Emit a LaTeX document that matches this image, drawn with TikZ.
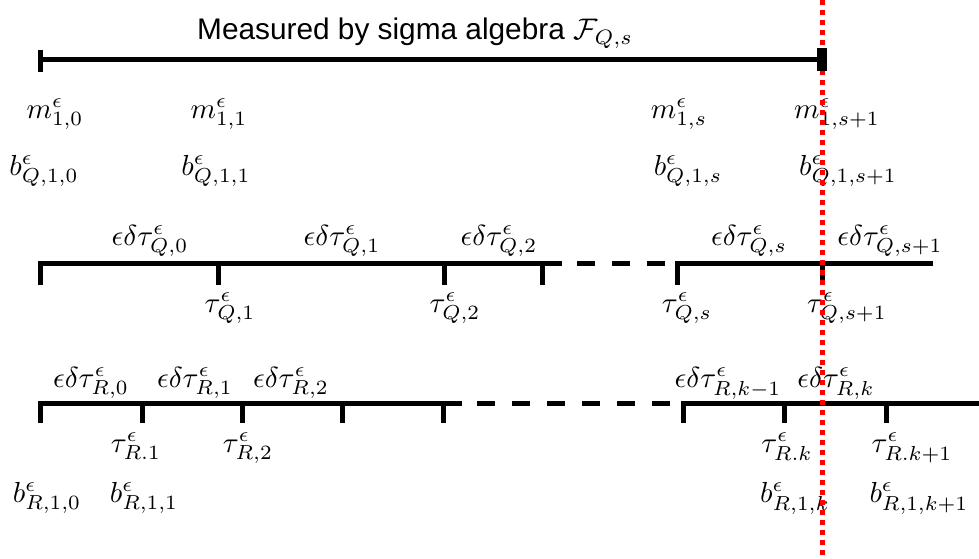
\documentclass[tikz,border=0pt]{standalone}
\usepackage{graphicx}
\usepackage{fontspec}
\newfontfamily\arialf{Liberation Sans}
\newcommand{\lblmath}[1]{\scalebox{2.9}{$#1$}}
\tikzset{
  lbl/.style={anchor=base, inner sep=0pt},
  ttl/.style={anchor=base west, inner sep=0pt},
  bar/.style={line width=5pt, line join=miter, line cap=butt},
  dashbar/.style={line width=5pt, dash pattern=on 18pt off 17pt},
  tickmark/.style={line width=5pt},
  redline/.style={red, line width=5pt, dash pattern=on 5pt off 5pt},
}
\begin{document}
\begin{tikzpicture}[x=1pt,y=-1pt]
\useasboundingbox (0,0) rectangle (979,559);
% top span
\node[ttl] (title) at (197,40) {\scalebox{2.98}{\arialf Measured by sigma algebra $\mathcal{F}_{Q,s}$}};
\coordinate (t0) at (40,60);
\coordinate (t1) at (817,60);
\draw[bar] (t0) -- (t1);
\draw[tickmark] (40,50) -- (40,72);
% m row
\node[lbl] (m0) at (55,118) {\lblmath{m^\epsilon_{1,0}}};
\node[lbl] (m1) at (219,118) {\lblmath{m^\epsilon_{1,1}}};
\node[lbl] (ms) at (679,118) {\lblmath{m^\epsilon_{1,s}}};
\node[lbl] (ms1) at (837,118) {\lblmath{m^\epsilon_{1,s+1}}};
% bQ row
\node[lbl] (bq0) at (44,175) {\lblmath{b^\epsilon_{Q,1,0}}};
\node[lbl] (bq1) at (216,175) {\lblmath{b^\epsilon_{Q,1,1}}};
\node[lbl] (bqs) at (688,175) {\lblmath{b^\epsilon_{Q,1,s}}};
\node[lbl] (bqs1) at (848,175) {\lblmath{b^\epsilon_{Q,1,s+1}}};
% Q line
\draw[bar] (40,285) -- (40,263) -- (562,263);
\draw[dashbar] (577,263) -- (670,263);
\draw[bar] (675,263) -- (933,263);
\foreach \x in {218,444,542,677,822}
  \draw[tickmark] (\x,263) -- (\x,285);
\node[lbl] (dq0) at (150,245) {\lblmath{\epsilon\delta\tau^\epsilon_{Q,0}}};
\node[lbl] (dq1) at (342,245) {\lblmath{\epsilon\delta\tau^\epsilon_{Q,1}}};
\node[lbl] (dq2) at (499,245) {\lblmath{\epsilon\delta\tau^\epsilon_{Q,2}}};
\node[lbl] (dqs) at (749,245) {\lblmath{\epsilon\delta\tau^\epsilon_{Q,s}}};
\node[lbl] (dqs1) at (890,245) {\lblmath{\epsilon\delta\tau^\epsilon_{Q,s+1}}};
\node[lbl] (tq1) at (230,312) {\lblmath{\tau^\epsilon_{Q,1}}};
\node[lbl] (tq2) at (455,312) {\lblmath{\tau^\epsilon_{Q,2}}};
\node[lbl] (tqs) at (687,312) {\lblmath{\tau^\epsilon_{Q,s}}};
\node[lbl] (tqs1) at (847,312) {\lblmath{\tau^\epsilon_{Q,s+1}}};
% R line
\draw[bar] (40,423) -- (40,403) -- (462,403);
\draw[dashbar] (477,403) -- (672,403);
\draw[bar] (683,423) -- (683,403) -- (979,403);
\foreach \x in {142,242,342,443,784,886}
  \draw[tickmark] (\x,403) -- (\x,423);
\node[lbl] (dr0) at (91,387) {\lblmath{\epsilon\delta\tau^\epsilon_{R,0}}};
\node[lbl] (dr1) at (195,387) {\lblmath{\epsilon\delta\tau^\epsilon_{R,1}}};
\node[lbl] (dr2) at (291,387) {\lblmath{\epsilon\delta\tau^\epsilon_{R,2}}};
\node[lbl] (drk1) at (728,387) {\lblmath{\epsilon\delta\tau^\epsilon_{R,k-1}}};
\node[lbl] (drk) at (836,387) {\lblmath{\epsilon\delta\tau^\epsilon_{R,k}}};
\node[lbl] (tr1) at (136,452) {\lblmath{\tau^\epsilon_{R.1}}};
\node[lbl] (tr2) at (248,452) {\lblmath{\tau^\epsilon_{R,2}}};
\node[lbl] (trk) at (787,452) {\lblmath{\tau^\epsilon_{R.k}}};
\node[lbl] (trk1) at (912,452) {\lblmath{\tau^\epsilon_{R.k+1}}};
\node[lbl] (br0) at (47,502) {\lblmath{b^\epsilon_{R,1,0}}};
\node[lbl] (br1) at (144,502) {\lblmath{b^\epsilon_{R,1,1}}};
\node[lbl] (brk) at (795,502) {\lblmath{b^\epsilon_{R,1,k}}};
\node[lbl] (brk1) at (919,502) {\lblmath{b^\epsilon_{R,1,k+1}}};
% red dotted marker
\coordinate (rtop) at (822,0);
\coordinate (rbot) at (822,559);
\draw[redline] (rtop) -- (rbot);
% end block of the top span, over the red line
\fill (817,48) rectangle (827,71);
\end{tikzpicture}
\end{document}
